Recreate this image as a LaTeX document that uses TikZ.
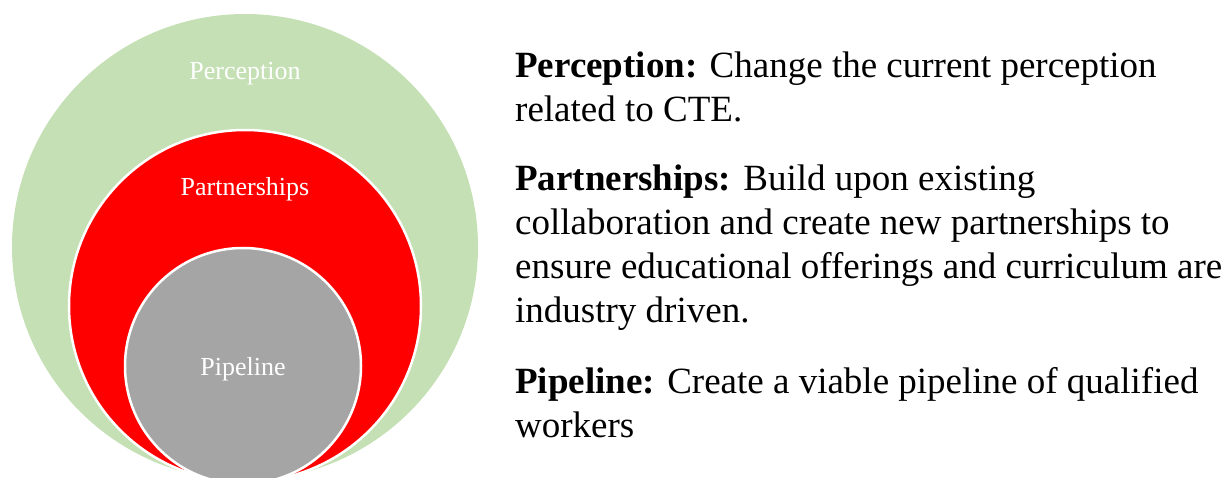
\documentclass[tikz,border=0pt]{standalone}
\usepackage{fontspec}
\setmainfont{Liberation Serif}
\definecolor{pgreen}{HTML}{C5E0B4}
\definecolor{pred}{HTML}{FF0000}
\definecolor{pgray}{HTML}{A5A5A5}
\tikzset{
  ring/.style={circle, inner sep=0pt, draw=white, line width=2.5pt},
  lbl/.style={text=white, font=\fontsize{26}{30}\selectfont, inner sep=0pt},
  desc/.style={anchor=base west, align=left, inner sep=0pt, font=\fontsize{37}{44}\selectfont}
}
\begin{document}
\begin{tikzpicture}[x=1pt,y=-1pt]
\useasboundingbox (0,0) rectangle (1229,478);
\begin{scope}
\clip (0,0) rectangle (1229,478);
\node[ring, fill=pgreen, draw=none, minimum size=466pt] (perc) at (245,247) {};
\node[ring, fill=pred, minimum size=352pt] (part) at (245,306) {};
\node[ring, fill=pgray, minimum size=236pt] (pipe) at (243,366) {};
\end{scope}
\node[lbl] (lperc) at (245,74) {Perception};
\node[lbl] (lpart) at (245,189) {Partnerships};
\node[lbl] (lpipe) at (243,369) {Pipeline};
% base anchor of a multi-line node lies on its last line
\node[desc] (dperc) at (515,122) {\textbf{Perception:} Change the current perception\\related to CTE.};
\node[desc] (dpart) at (515,323) {\textbf{Partnerships:} Build upon existing\\collaboration and create new partnerships to\\ensure educational offerings and curriculum are\\industry driven.};
\node[desc] (dpipe) at (515,437) {\textbf{Pipeline:} Create a viable pipeline of qualified\\workers};
\end{tikzpicture}
\end{document}
